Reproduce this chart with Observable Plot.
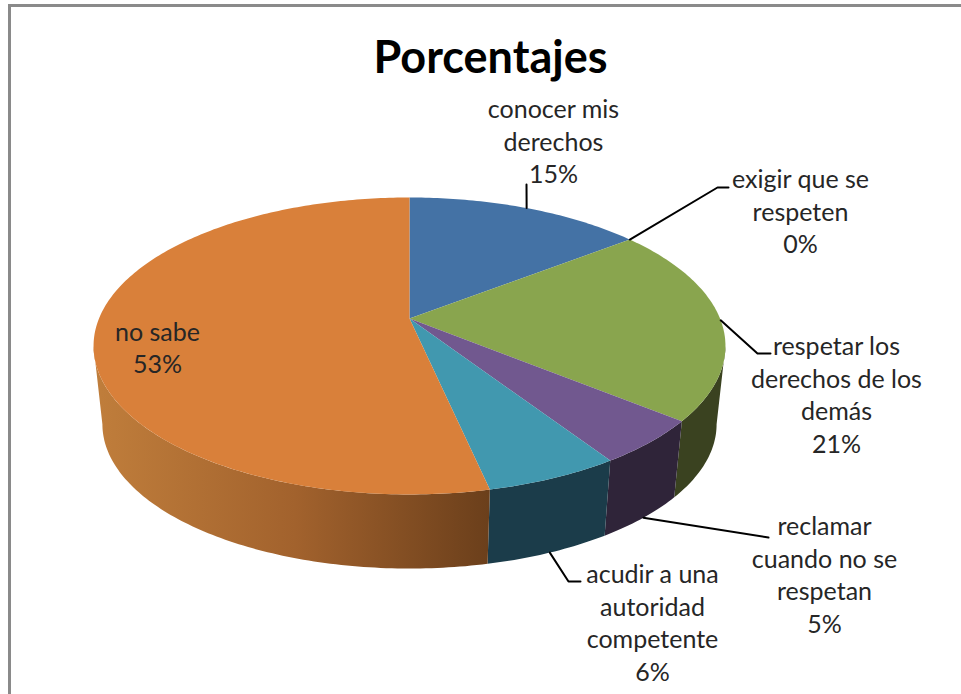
<!DOCTYPE html>
<html>
<head>
<meta charset="utf-8">
<script src="https://cdn.jsdelivr.net/npm/d3@7"></script>
<script src="https://cdn.jsdelivr.net/npm/@observablehq/plot@0.6"></script>
<style>
html,body{margin:0;padding:0;background:#fff}
svg{display:block}
</style>
</head>
<body>
<div id="chart"></div>
<script>
// Data
const categories = ["conocer mis\nderechos", "exigir que se\nrespeten", "respetar los\nderechos de los\ndemás", "reclamar\ncuando no se\nrespetan", "acudir a una\nautoridad\ncompetente", "no sabe"];
const percentLabels = ["15%", "0%", "21%", "5%", "6%", "53%"];
const shares = [14.5, 0, 21.4, 4.9, 5.8, 53.4];

// Styles
const topColors = ["#4472a5", "#c0504d", "#89a54e", "#71588f", "#4198af", "#d9803a"];
const wallColors = ["#24395a", "#5a2420", "#3a4220", "#2f2439", "#1b3c4a", "url(#orangeWall)"];

// Layout: text centre, elbow and line end for each label
const labelLayout = [
  {x: 553, y: 140, line: [[526, 184]]},
  {x: 800, y: 210, line: [[717, 187], [728, 187]]},
  {x: 836, y: 393, line: [[757, 353], [770, 353]]},
  {x: 824, y: 573, line: [[768, 537]]},
  {x: 652, y: 621, line: [[568, 581], [580, 581]]},
  {x: 157, y: 346, line: null}
];

// Perspective disc: top face and lower rim
const top3d = {cx: 409, cy: 318, b: 310.5, a: 143.4, q: 0.185};
const bottom3d = {cx: 409, cy: 397, b: 301.8, a: 139.4, q: 0.185};
const project = (disc, r, pct) => {
  const t = pct / 100 * 2 * Math.PI, u = r * Math.sin(t), v = r * Math.cos(t), w = 1 + disc.q * v;
  return [disc.cx + disc.b * u / w, disc.cy - disc.a * v / w];
};

const ends = d3.cumsum(shares);
const slices = shares.map((s, i) => ({i, start: ends[i] - s, end: ends[i], mid: ends[i] - s / 2}));
const arc = (disc, start, end) => d3.range(0, 1.0001, 1 / Math.max(2, Math.ceil(end - start) * 4))
  .map(f => project(disc, 1, start + f * (end - start)));

// Only the front of the rim shows: from where the disc is widest on the right to where it is widest on the left
const frontFrom = 100 * Math.acos(-top3d.q) / (2 * Math.PI);
const frontTo = 100 - frontFrom;
const wallMarks = slices
  .filter(sl => sl.end > frontFrom && sl.start < frontTo)
  .map(sl => {
    const a = Math.max(sl.start, frontFrom), b = Math.min(sl.end, frontTo);
    return Plot.line([...arc(top3d, a, b), ...arc(bottom3d, a, b).reverse()],
      {x: d => d[0], y: d => d[1], fill: wallColors[sl.i], stroke: "none"});
  });
const topMarks = slices.filter(sl => sl.end > sl.start).map(sl => Plot.line(
  [[top3d.cx, top3d.cy], ...arc(top3d, sl.start, sl.end)],
  {x: d => d[0], y: d => d[1], fill: topColors[sl.i], stroke: "none"}));

const leaderMarks = slices.filter(sl => labelLayout[sl.i].line).map(sl => {
  const disc = sl.mid > 30 && sl.mid < 50 ? bottom3d : top3d;
  return Plot.line([project(disc, 1, sl.mid), ...labelLayout[sl.i].line],
    {x: d => d[0], y: d => d[1], stroke: "#000", strokeWidth: 2, curve: "linear"});
});

const labelRows = categories.map((c, i) => ({text: c + "\n" + percentLabels[i], ...labelLayout[i]}));

const defs = () => {
  const ns = "http://www.w3.org/2000/svg";
  const d = document.createElementNS(ns, "defs");
  const g = document.createElementNS(ns, "linearGradient");
  g.setAttribute("id", "orangeWall");
  g.setAttribute("gradientUnits", "userSpaceOnUse");
  g.setAttribute("x1", 100); g.setAttribute("x2", 489); g.setAttribute("y1", 0); g.setAttribute("y2", 0);
  [["0", "#bf7d3b"], ["0.5", "#a2622d"], ["1", "#6b3f1b"]].forEach(([o, c]) => {
    const s = document.createElementNS(ns, "stop");
    s.setAttribute("offset", o); s.setAttribute("stop-color", c);
    g.appendChild(s);
  });
  d.appendChild(g);
  return d;
};

const chart = Plot.plot({
  width: 961, height: 694,
  margin: 0,
  style: {background: "#fff", fontFamily: "Lato, sans-serif", overflow: "visible"},
  x: {domain: [0, 961], range: [0, 961], axis: null},
  y: {domain: [0, 694], range: [0, 694], axis: null},
  marks: [
    defs,
    Plot.ruleY([5], {x1: 8, x2: 961, stroke: "#8a8a8a", strokeWidth: 3}),
    Plot.ruleX([9], {y1: 4, y2: 694, stroke: "#8a8a8a", strokeWidth: 3}),
    ...wallMarks,
    ...topMarks,
    ...leaderMarks,
    Plot.text(["Porcentajes"], {x: 490, y: 58, text: d => d, fontSize: 45, fontWeight: 700, fill: "#000"}),
    Plot.text(labelRows, {x: "x", y: "y", text: "text", fontSize: 25, fontWeight: 400, lineHeight: 1.3, fill: "#262626"})
  ]
});
document.getElementById("chart").appendChild(chart);
</script>
</body>
</html>
